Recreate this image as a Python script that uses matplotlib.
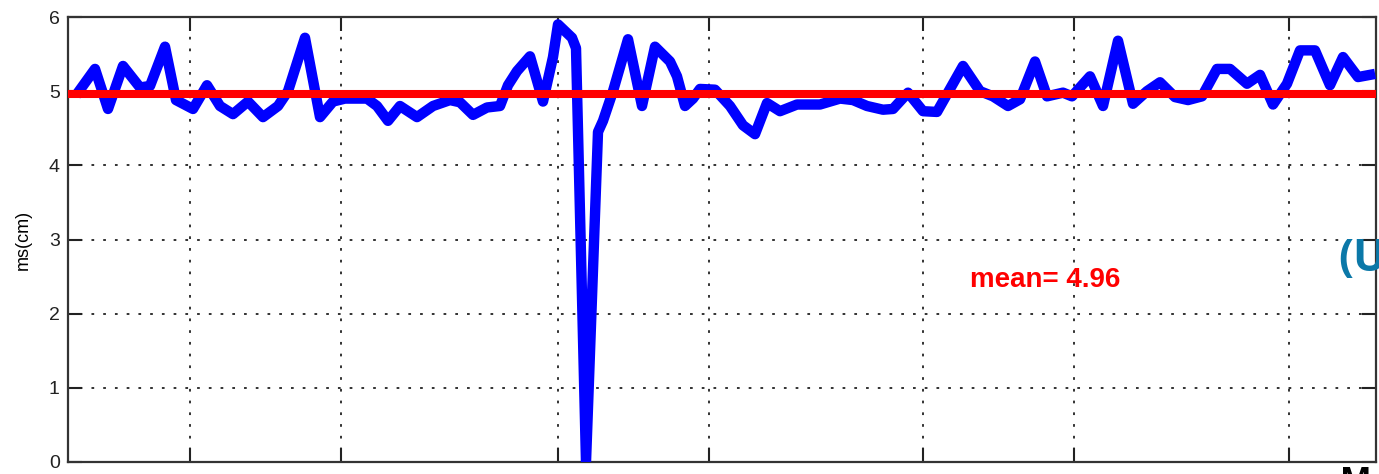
import matplotlib
matplotlib.use('Agg')
import matplotlib.pyplot as plt

# sample position along the record and rms value (cm)
pos = [11, 27, 40, 55, 72, 82, 97, 108, 125, 139, 152, 165, 180, 195, 210, 220,
       237, 252, 265, 277, 299, 309, 320, 332, 349, 365, 382, 392, 405, 419, 432,
       440, 449, 462, 475, 485, 490, 504, 508, 518, 530, 535, 545, 560, 574, 587,
       602, 609, 617, 625, 632, 647, 662, 675, 687, 699, 712, 729, 752, 772, 785,
       799, 815, 825, 840, 855, 869, 882, 895, 912, 925, 940, 952, 967, 979, 995,
       1004, 1022, 1035, 1050, 1065, 1079, 1092, 1107, 1120, 1134, 1149, 1162,
       1179, 1192, 1205, 1219, 1232, 1247, 1262, 1275, 1290, 1302]
rms = [5.0, 5.3, 4.76, 5.34, 5.05, 5.07, 5.6, 4.88, 4.76, 5.08, 4.8, 4.69, 4.86,
       4.65, 4.8, 5.0, 5.72, 4.65, 4.86, 4.9, 4.9, 4.8, 4.6, 4.8, 4.65, 4.8, 4.88,
       4.85, 4.68, 4.78, 4.8, 5.08, 5.27, 5.47, 4.86, 5.46, 5.9, 5.72, 5.58, 0.0,
       4.45, 4.6, 5.0, 5.7, 4.8, 5.6, 5.4, 5.2, 4.8, 4.9, 5.03, 5.02, 4.8, 4.54,
       4.42, 4.84, 4.73, 4.82, 4.82, 4.9, 4.88, 4.8, 4.75, 4.76, 4.98, 4.73, 4.72,
       5.03, 5.34, 5.0, 4.93, 4.8, 4.89, 5.4, 4.93, 4.98, 4.93, 5.2, 4.8, 5.68,
       4.83, 5.0, 5.12, 4.92, 4.88, 4.93, 5.3, 5.3, 5.1, 5.22, 4.82, 5.1, 5.55,
       5.55, 5.08, 5.46, 5.19, 5.22]
mean_rms = 4.96
x_ticks = [122, 273, 490, 641, 855, 1006, 1221]
y_ticks = [0, 1, 2, 3, 4, 5, 6]

fig = plt.figure(figsize=(13.79, 4.74), dpi=100)
ax = fig.add_axes([68 / 1379, 12 / 474, 1308 / 1379, 445 / 474])

ax.plot(pos, rms, color='#0000ff', lw=7.5, solid_joinstyle='round', zorder=3)
ax.axhline(mean_rms, color='#ff0000', lw=5.8, zorder=4)

ax.set_xlim(0, 1308)
ax.set_ylim(0, 6)
ax.set_xticks(x_ticks)
ax.set_xticklabels([''] * len(x_ticks))
ax.set_yticks(y_ticks)
ax.set_yticklabels([str(v) for v in y_ticks], fontsize=14, family='Liberation Sans')

ax.grid(True, color='#222222', linestyle=(0, (1.5, 5)), lw=1.3)
ax.tick_params(direction='in', length=10, width=1.5, top=True, right=True,
               colors='#222222', pad=6)
for s in ax.spines.values():
    s.set_linewidth(1.6)
    s.set_color('#333333')

ax.set_ylabel('ms(cm)', fontsize=13, family='Liberation Sans', labelpad=12)

ax.text(0.747, 0.41, 'mean= 4.96', transform=ax.transAxes, color='#ff0000',
        fontsize=20, fontweight='bold', family='Liberation Sans',
        ha='center', va='center')

# bits of surrounding page text that the crop cut through
fig.text(1338 / 1379, 1 - 260 / 474, '(U', color='#0b78a8', fontsize=32,
         fontweight='bold', family='Open Sans', ha='left', va='center')
fig.text(1340 / 1379, -24 / 474, 'M', color='black', fontsize=24,
         fontweight='bold', family='Open Sans', ha='left', va='bottom')

fig.savefig('out.png', dpi=100)
